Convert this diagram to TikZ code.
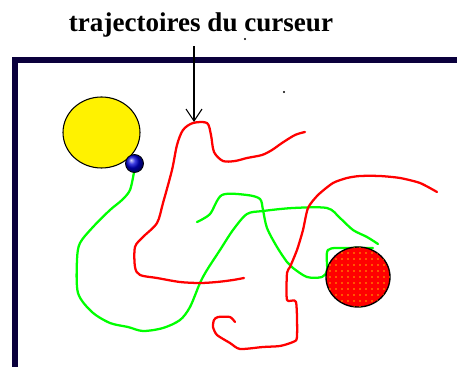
\documentclass[tikz,border=0pt]{standalone}
\usepackage{fontspec}
\setmainfont{Liberation Serif}
\usepackage{xcolor}
\usetikzlibrary{arrows.meta,shapes.geometric,patterns.meta}
\definecolor{framenavy}{RGB}{10,0,60}
\definecolor{trailred}{RGB}{255,0,0}
\definecolor{trailgreen}{RGB}{0,255,0}
\definecolor{dotorange}{RGB}{255,175,0}
\tikzset{
  headline/.style={font=\fontsize{20.3}{22}\selectfont\bfseries, inner sep=1pt},
  sunball/.style={ellipse, draw=black, line width=0.8pt, fill=yellow,
    minimum width=57.75pt, minimum height=53.25pt, inner sep=0pt},
  cursorball/.style={circle, draw=black, line width=0.6pt, shading=ball,
    ball color=blue!85!black, minimum size=13.5pt, inner sep=0pt},
  goalball/.style={ellipse, draw=black, line width=1pt, fill=red,
    minimum width=48pt, minimum height=45pt, inner sep=0pt,
    postaction={pattern={Dots[distance=4.5pt,radius=0.6pt]}, pattern color=dotorange}},
  redtrail/.style={draw=trailred, line width=1.7pt, line join=round, line cap=round},
  greentrail/.style={draw=trailgreen, line width=1.7pt, line join=round, line cap=round},
  pointer/.style={-{Straight Barb[length=9pt,width=12pt]}, line width=0.8pt},
}

\begin{document}
\begin{tikzpicture}[x=0.75pt, y=-0.75pt]
  \useasboundingbox (0,0) rectangle (457,367);
  \begin{scope}
    \clip (0,0) rectangle (457,367);
    \draw[framenavy, line width=4.5pt] (15,380) -- (15,60) -- (470,60);
  \end{scope}
  \fill (245,39) circle (0.9pt);
  \fill (284,92) circle (0.9pt);

  \node[headline, anchor=base] (title) at (201,32) {trajectoires du curseur};

  \draw[greentrail] plot[smooth, tension=0.5] coordinates {
    (134,172) (130,190) (122,200) (110,210) (93,227) (80,243) (77,260)
    (78,293) (92,312) (110,323) (128,327) (143,331) (163,328) (180,320)
    (190,307) (200,283) (207,270) (220,250) (233,230) (247,214) (263,211)
    (293,208) (327,208) (340,218) (353,230) (367,237) (378,244)};
  \draw[greentrail] plot[smooth, tension=0.5] coordinates {
    (197,222) (210,214) (222,195) (247,195) (260,199) (263,210) (267,228)
    (277,247) (287,262) (293,268) (307,277) (322,277) (327,270) (328,250)
    (347,248) (373,248)};
  \draw[redtrail] plot[smooth, tension=0.5] coordinates {
    (244,278) (233,280) (217,282) (200,283) (180,282) (157,278) (140,275)
    (135,267) (135,247) (143,237) (157,223) (163,203) (172,170) (177,145)
    (183,130) (193,123) (207,123) (211,135) (214,152) (223,161) (235,161)
    (247,158) (262,155) (272,150) (282,143) (295,135) (305,132)};
  \draw[redtrail] plot[smooth, tension=0.4] coordinates {
    (437,192) (420,183) (400,178) (380,176) (360,176) (347,178) (333,183)
    (318,195) (308,208) (303,230) (297,250) (290,267) (287,273) (287,300)
    (296,302) (297,337) (293,342) (280,346) (263,347) (240,349) (230,343)
    (217,335) (213,327) (214,320) (218,317) (230,317) (235,322)};

  \node[sunball] (sun) at (101.5,132.5) {};
  \node[cursorball] (cursor) at (134.5,163.5) {};
  \node[goalball] (goal) at (358,277) {};

  \coordinate (peak) at (194,122);
  \draw[pointer] ([yshift=-5pt]title.south -| peak) -- (peak);
\end{tikzpicture}
\end{document}
